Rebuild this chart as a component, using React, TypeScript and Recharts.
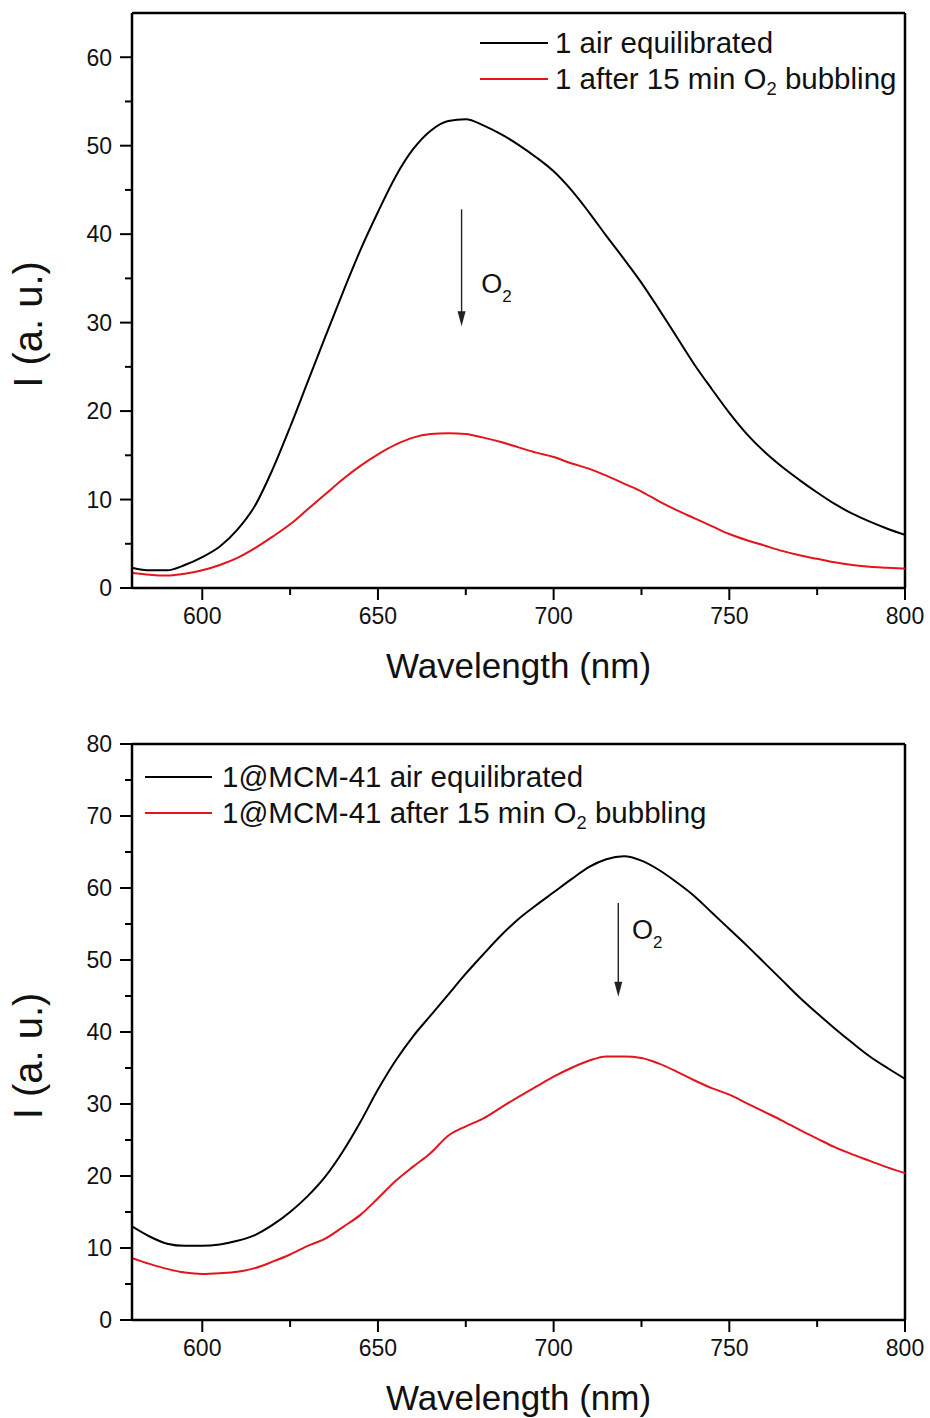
import React from 'react';
import { LineChart, Line, XAxis, YAxis, Legend, ReferenceLine, ReferenceDot, Label } from 'recharts';

const wavelengths = [580, 585, 590, 595, 600, 605, 610, 615, 620, 625, 630, 635, 640, 645, 650, 655, 660, 665, 670, 675, 680, 685, 690, 695, 700, 705, 710, 715, 720, 725, 730, 735, 740, 745, 750, 755, 760, 765, 770, 775, 780, 785, 790, 795, 800];

const topAir = [2.3, 2.0, 2.0, 2.6, 3.5, 4.7, 6.6, 9.3, 13.4, 18.2, 23.3, 28.4, 33.4, 38.2, 42.5, 46.5, 49.6, 51.7, 52.8, 53.0, 52.3, 51.3, 50.1, 48.7, 47.1, 45.0, 42.5, 39.8, 37.2, 34.5, 31.5, 28.4, 25.3, 22.5, 19.8, 17.4, 15.4, 13.7, 12.2, 10.8, 9.5, 8.4, 7.5, 6.7, 6.0];
const topO2 = [1.7, 1.5, 1.4, 1.6, 2.0, 2.6, 3.4, 4.5, 5.8, 7.2, 8.9, 10.6, 12.3, 13.8, 15.1, 16.2, 17.0, 17.4, 17.5, 17.4, 17.0, 16.5, 15.9, 15.3, 14.8, 14.1, 13.5, 12.7, 11.8, 10.9, 9.8, 8.8, 7.9, 7.0, 6.1, 5.4, 4.8, 4.2, 3.7, 3.3, 2.9, 2.6, 2.4, 2.3, 2.2];
const mcmAir = [13.0, 11.6, 10.6, 10.3, 10.3, 10.5, 11.0, 11.8, 13.2, 15.0, 17.2, 19.9, 23.4, 27.5, 32.0, 36.0, 39.4, 42.3, 45.2, 48.1, 50.8, 53.4, 55.7, 57.6, 59.4, 61.2, 62.9, 64.0, 64.4, 63.8, 62.5, 60.8, 58.9, 56.6, 54.3, 52.0, 49.6, 47.2, 44.8, 42.6, 40.5, 38.5, 36.6, 35.0, 33.5];
const mcmO2 = [8.6, 7.8, 7.1, 6.6, 6.4, 6.5, 6.7, 7.2, 8.1, 9.1, 10.3, 11.3, 12.9, 14.6, 16.9, 19.3, 21.3, 23.2, 25.6, 26.9, 28.0, 29.5, 31.0, 32.4, 33.8, 35.0, 36.0, 36.6, 36.6, 36.4, 35.6, 34.5, 33.3, 32.2, 31.3, 30.1, 28.9, 27.7, 26.4, 25.2, 24.0, 23.0, 22.1, 21.2, 20.4];

const xTicks = [600, 625, 650, 675, 700, 725, 750, 775, 800];
const topYTicks = [0, 5, 10, 15, 20, 25, 30, 35, 40, 45, 50, 55, 60];
const bottomYTicks = [0, 5, 10, 15, 20, 25, 30, 35, 40, 45, 50, 55, 60, 65, 70, 75, 80];
const topNames = ['1 air equilibrated', '1 after 15 min O2 bubbling'];
const bottomNames = ['1@MCM-41 air equilibrated', '1@MCM-41 after 15 min O2 bubbling'];
const seriesColors = ['#000000', '#e3141b'];
const xTitle = 'Wavelength (nm)';
const yTitle = 'I (a. u.)';
const arrowLabel = 'O';

const FONT = '"Liberation Sans", Arial, Helvetica, sans-serif';
const TICK_SIZE = 12;
const MINOR_SIZE = 7;
const TICK_MARGIN = 8;

function renderName(name: string) {
  const idx = name.indexOf('O2');
  if (idx < 0) return name;
  return (
    <>
      {name.slice(0, idx)}O
      <span style={{ fontSize: '0.62em', position: 'relative', top: '0.35em' }}>2</span>
      {name.slice(idx + 2)}
    </>
  );
}

const XTick = (props: any) => {
  const { x, y, payload } = props;
  const v = payload.value;
  const major = v % 50 === 0;
  const axisY = y - TICK_SIZE - TICK_MARGIN;
  return (
    <g>
      <line x1={x} x2={x} y1={axisY} y2={axisY + (major ? TICK_SIZE : MINOR_SIZE)} stroke="#000" strokeWidth={2} />
      {major && (
        <text x={x} y={y} dy="0.71em" textAnchor="middle" fontSize={23} fontFamily={FONT} fill="#111">
          {v}
        </text>
      )}
    </g>
  );
};

const YTick = (props: any) => {
  const { x, y, payload } = props;
  const v = payload.value;
  const major = v % 10 === 0;
  const axisX = x + TICK_SIZE + TICK_MARGIN;
  return (
    <g>
      <line x1={axisX} x2={axisX - (major ? TICK_SIZE : MINOR_SIZE)} y1={y} y2={y} stroke="#000" strokeWidth={2} />
      {major && (
        <text x={x} y={y} dy="0.36em" textAnchor="end" fontSize={23} fontFamily={FONT} fill="#111">
          {v}
        </text>
      )}
    </g>
  );
};

const ArrowShape = (props: any) => {
  const { x1, y1, x2, y2 } = props;
  return (
    <g>
      <line x1={x1} y1={y1} x2={x2} y2={y2 - 12} stroke="#222" strokeWidth={1.4} />
      <polygon points={`${x2 - 4},${y2 - 15} ${x2 + 4},${y2 - 15} ${x2},${y2}`} fill="#222" />
    </g>
  );
};

const O2Shape = (props: any) => {
  const { cx, cy } = props;
  return (
    <text x={cx} y={cy} dy="0.36em" fontSize={27} fontFamily={FONT} fill="#111">
      {arrowLabel}
      <tspan fontSize={17} dy={9}>2</tspan>
    </text>
  );
};

type PanelProps = {
  top: number;
  height: number;
  marginTop: number;
  marginBottom: number;
  yMax: number;
  yTicks: number[];
  air: number[];
  o2: number[];
  names: string[];
  legendLeft: number;
  legendTop: number;
  lineWidth: number;
  gap: number;
  arrowX: number;
  arrowY1: number;
  arrowY2: number;
  labelX: number;
  labelY: number;
};

const Panel = (p: PanelProps) => {
  const data = wavelengths.map((w, i) => ({ w, air: p.air[i], o2: p.o2[i] }));
  const LegendContent = (lp: any) => {
    const items = [...(lp.payload || [])].sort(
      (a: any, b: any) => p.names.indexOf(a.value) - p.names.indexOf(b.value)
    );
    return (
      <div style={{ fontFamily: FONT, fontSize: 29.5, color: '#111' }}>
        {items.map((item: any) => (
          <div key={item.value} style={{ display: 'flex', alignItems: 'center', height: 36, whiteSpace: 'nowrap' }}>
            <svg width={p.lineWidth} height={4} style={{ display: 'block' }}>
              <line x1={0} y1={2} x2={p.lineWidth} y2={2} stroke={item.color} strokeWidth={2} />
            </svg>
            <span style={{ marginLeft: p.gap }}>{renderName(item.value)}</span>
          </div>
        ))}
      </div>
    );
  };
  const XTitle = (lp: any) => {
    const vb = lp.viewBox;
    return (
      <text x={vb.x + vb.width / 2} y={vb.y + 77} dy="0.36em" textAnchor="middle" fontSize={35} fontFamily={FONT} fill="#111">
        {xTitle}
      </text>
    );
  };
  const YTitle = (lp: any) => {
    const vb = lp.viewBox;
    const cy = vb.y + vb.height / 2 + 24;
    return (
      <text x={28} y={cy} dy="0.36em" textAnchor="middle" fontSize={40} fontFamily={FONT} fill="#111" transform={`rotate(-90, 28, ${cy})`}>
        {yTitle}
      </text>
    );
  };
  return (
    <div style={{ position: 'absolute', left: 0, top: p.top, width: 930, height: p.height }}>
      <LineChart width={930} height={p.height} data={data} margin={{ top: p.marginTop, right: 25, bottom: p.marginBottom, left: 62 }}>
        <XAxis
          dataKey="w"
          type="number"
          domain={[580, 800]}
          ticks={xTicks}
          interval={0}
          allowDataOverflow
          height={60}
          tickSize={TICK_SIZE}
          tickMargin={TICK_MARGIN}
          tickLine={false}
          tick={<XTick />}
          axisLine={{ stroke: '#000', strokeWidth: 2.5 }}
        >
          <Label content={<XTitle />} />
        </XAxis>
        <YAxis
          type="number"
          domain={[0, p.yMax]}
          ticks={p.yTicks}
          interval={0}
          allowDataOverflow
          width={70}
          tickSize={TICK_SIZE}
          tickMargin={TICK_MARGIN}
          tickLine={false}
          tick={<YTick />}
          axisLine={{ stroke: '#000', strokeWidth: 2.5 }}
        >
          <Label content={<YTitle />} />
        </YAxis>
        <ReferenceLine y={p.yMax} stroke="#000" strokeWidth={2.5} ifOverflow="visible" />
        <ReferenceLine x={800} stroke="#000" strokeWidth={2.5} ifOverflow="visible" />
        <Line type="monotone" dataKey="air" name={p.names[0]} stroke={seriesColors[0]} strokeWidth={2} dot={false} isAnimationActive={false} />
        <Line type="monotone" dataKey="o2" name={p.names[1]} stroke={seriesColors[1]} strokeWidth={2} dot={false} isAnimationActive={false} />
        <ReferenceLine
          segment={[{ x: p.arrowX, y: p.arrowY1 }, { x: p.arrowX, y: p.arrowY2 }]}
          shape={<ArrowShape />}
          ifOverflow="visible"
        />
        <ReferenceDot x={p.labelX} y={p.labelY} r={0} shape={<O2Shape />} ifOverflow="visible" />
        <Legend
          layout="horizontal"
          verticalAlign="middle"
          align="center"
          width={520}
          content={<LegendContent />}
          wrapperStyle={{ left: p.legendLeft, top: p.legendTop, width: 'auto', height: 'auto' }}
        />
      </LineChart>
    </div>
  );
};

export default function App() {
  return (
    <div style={{ position: 'absolute', left: 0, top: 0, width: 930, height: 1418, background: '#fff' }}>
      <Panel
        top={0}
        height={700}
        marginTop={13}
        marginBottom={52}
        yMax={65}
        yTicks={topYTicks}
        air={topAir}
        o2={topO2}
        names={topNames}
        legendLeft={480}
        legendTop={25}
        lineWidth={68}
        gap={7}
        arrowX={673.8}
        arrowY1={42.8}
        arrowY2={29.6}
        labelX={679.4}
        labelY={34.5}
      />
      <Panel
        top={730}
        height={688}
        marginTop={14}
        marginBottom={38}
        yMax={80}
        yTicks={bottomYTicks}
        air={mcmAir}
        o2={mcmO2}
        names={bottomNames}
        legendLeft={145}
        legendTop={29}
        lineWidth={67}
        gap={10}
        arrowX={718.4}
        arrowY1={57.9}
        arrowY2={44.9}
        labelX={722.3}
        labelY={54.3}
      />
    </div>
  );
}
